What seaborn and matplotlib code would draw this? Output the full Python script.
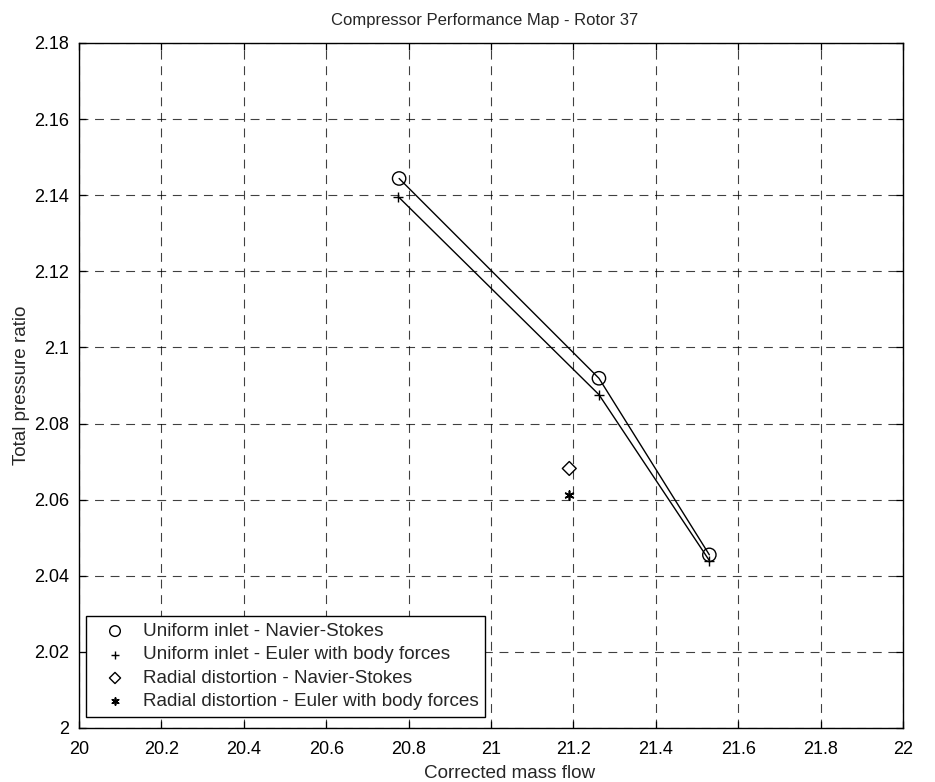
import matplotlib
matplotlib.use("Agg")
import matplotlib.pyplot as plt
import seaborn as sns
import pandas as pd

# Operating points (corrected mass flow, total pressure ratio)
uniform_ns_flow = [20.777, 21.262, 21.530]
uniform_ns_pr = [2.1444, 2.0919, 2.0455]
uniform_euler_flow = [20.775, 21.262, 21.530]
uniform_euler_pr = [2.1396, 2.0876, 2.0440]
radial_ns_flow = [21.190]
radial_ns_pr = [2.0682]
radial_euler_flow = [21.190]
radial_euler_pr = [2.0612]

x_ticks = [20, 20.2, 20.4, 20.6, 20.8, 21, 21.2, 21.4, 21.6, 21.8, 22]
y_ticks = [2, 2.02, 2.04, 2.06, 2.08, 2.1, 2.12, 2.14, 2.16, 2.18]
x_tick_labels = ["20", "20.2", "20.4", "20.6", "20.8", "21", "21.2", "21.4", "21.6", "21.8", "22"]
y_tick_labels = ["2", "2.02", "2.04", "2.06", "2.08", "2.1", "2.12", "2.14", "2.16", "2.18"]

labels = [
    "Uniform inlet - Navier-Stokes",
    "Uniform inlet - Euler with body forces",
    "Radial distortion - Navier-Stokes",
    "Radial distortion - Euler with body forces",
]

sns.set_theme(style="white")
plt.rcParams["font.family"] = ["Liberation Sans", "DejaVu Sans"]

fig = plt.figure(figsize=(9.35, 7.82), dpi=100)
ax = fig.add_axes([79 / 935, 54 / 782, 824 / 935, 685 / 782])

ns_df = pd.DataFrame({"flow": uniform_ns_flow, "pr": uniform_ns_pr})
eu_df = pd.DataFrame({"flow": uniform_euler_flow, "pr": uniform_euler_pr})
rns_df = pd.DataFrame({"flow": radial_ns_flow, "pr": radial_ns_pr})
reu_df = pd.DataFrame({"flow": radial_euler_flow, "pr": radial_euler_pr})

# connecting lines for the uniform-inlet runs
sns.lineplot(data=ns_df, x="flow", y="pr", color="black", lw=1.0, sort=False,
             legend=False, ax=ax, zorder=3)
sns.lineplot(data=eu_df, x="flow", y="pr", color="black", lw=1.0, sort=False,
             legend=False, ax=ax, zorder=3)

# point markers
sns.scatterplot(data=ns_df, x="flow", y="pr", marker="o", s=92,
                facecolors="none", edgecolor="black", linewidth=1.0,
                label=labels[0], ax=ax, zorder=4)
sns.scatterplot(data=eu_df, x="flow", y="pr", marker="+", s=62,
                color="black", linewidth=1.0, label=labels[1], ax=ax, zorder=4)
sns.scatterplot(data=rns_df, x="flow", y="pr", marker="D", s=50,
                facecolors="none", edgecolor="black", linewidth=1.0,
                label=labels[2], ax=ax, zorder=4)
sns.scatterplot(data=reu_df, x="flow", y="pr", marker=(6, 2, 0), s=40,
                color="black", edgecolor="black", linewidth=1.2,
                label=labels[3], ax=ax, zorder=4)

ax.set_xlim(20, 22)
ax.set_ylim(2, 2.18)
ax.set_xticks(x_ticks)
ax.set_xticklabels(x_tick_labels)
ax.set_yticks(y_ticks)
ax.set_yticklabels(y_tick_labels)

ax.grid(True, color="black", linestyle=(0, (8, 6)), linewidth=0.8, alpha=0.75)
ax.set_axisbelow(False)
for side in ax.spines.values():
    side.set_color("black")
    side.set_linewidth(1.0)

ax.tick_params(axis="both", direction="in", length=5, width=0.9, color="black",
               labelsize=13, labelcolor="black", top=True, right=True,
               bottom=True, left=True)
ax.tick_params(axis="x", pad=9)
ax.tick_params(axis="y", pad=7)

ax.set_title("Compressor Performance Map - Rotor 37", fontsize=12, pad=13,
             x=0.492)
ax.set_xlabel("Corrected mass flow", fontsize=13.6)
ax.xaxis.set_label_coords(0.522, -0.054)
ax.set_ylabel("Total pressure ratio", fontsize=13.6)
ax.yaxis.set_label_coords(-0.059, 0.5)

leg = ax.legend(loc="lower left", bbox_to_anchor=(86 / 935, 65 / 782),
                bbox_transform=fig.transFigure, frameon=True, fancybox=False,
                fontsize=13.6, handletextpad=0.28, borderpad=0.35,
                labelspacing=0.33, handlelength=2.37, borderaxespad=0,
                markerscale=0.8)
leg.get_frame().set_edgecolor("black")
leg.get_frame().set_linewidth(1.0)
leg.get_frame().set_alpha(1.0)

fig.savefig("out.png", dpi=100)
